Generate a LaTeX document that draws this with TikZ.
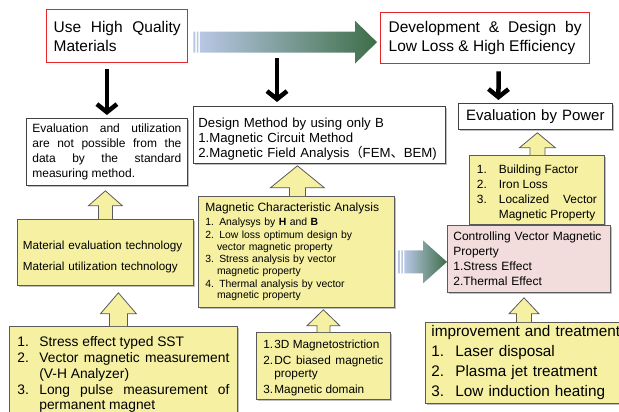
\documentclass[tikz,border=0pt]{standalone}
\usepackage{fontspec}
\setmainfont{Liberation Sans}
\newfontfamily\cjk{Noto Sans CJK KR}
\usetikzlibrary{
  arrows.meta,
  calc,
  shadows
}
\definecolor{framered}{RGB}{228,38,43}
\definecolor{noteyellow}{RGB}{245,240,162}
\definecolor{notepink}{RGB}{242,220,220}
\definecolor{gradstart}{RGB}{184,199,228}
\definecolor{gradend}{RGB}{62,110,72}
\definecolor{edgegray}{RGB}{90,90,90}
\hyphenpenalty=10000
\exhyphenpenalty=10000
\tolerance=10000
\hbadness=10000
\hfuzz=5pt

\newcommand\fsz[2]{\fontsize{#1}{#2}\selectfont}
% numbered line with hanging indent
\newcommand\numline[3]{\par\noindent\hangindent=#1\hangafter=1\makebox[#1][l]{#2}#3\par}
% yellow block arrow pointing up: tail, tip, shaft half, head half, head length
\newcommand\blockup[5]{%
  \draw[blockarrow] let \p1=#1, \p2=#2 in
    (\x1-#3,\y1) -- (\x1-#3,\y2-#5) -- (\x1-#4,\y2-#5) -- (\x1,\y2)
    -- (\x1+#4,\y2-#5) -- (\x1+#3,\y2-#5) -- (\x1+#3,\y1);
}
% shaded block arrow pointing right: start, tip, shaft half, head half, head length
\newcommand\gradarrow[5]{%
  \fill[gradstart] let \p1=#1 in
    (\x1,\y1-#3) rectangle (\x1+2pt,\y1+#3)
    (\x1+3.5pt,\y1-#3) rectangle (\x1+5pt,\y1+#3);
  \shade[left color=gradstart, right color=gradend] let \p1=#1, \p2=#2 in
    (\x1+6.5pt,\y1-#3) -- (\x2-#5,\y1-#3) -- (\x2-#5,\y1-#4) -- (\x2,\y1)
    -- (\x2-#5,\y1+#4) -- (\x2-#5,\y1+#3) -- (\x1+6.5pt,\y1+#3) -- cycle;
}

\tikzset{
  redbox/.style={draw=framered, line width=1.3pt, fill=white, anchor=north west},
  whitebox/.style={draw=black!75, line width=0.8pt, fill=white, anchor=north west,
    drop shadow={shadow xshift=1.5pt, shadow yshift=-1.5pt, opacity=0.5, fill=black!50}},
  notebox/.style={draw=edgegray, line width=0.8pt, fill=noteyellow, anchor=north west,
    drop shadow={shadow xshift=1.5pt, shadow yshift=-1.5pt, opacity=0.5, fill=black!50}},
  ctrlbox/.style={notebox, fill=notepink},
  blockarrow/.style={draw=edgegray, line width=0.8pt, fill=noteyellow},
  downarrow/.style={line width=4.5pt, -{Straight Barb[length=8pt,width=20pt]}}
}

\begin{document}
\begin{tikzpicture}[x=1pt, y=-1pt]
  \clip (0,0) rectangle (619,412);

  % top targets
  \node [redbox, inner xsep=7pt, text width=127pt, minimum height=53pt, align=justify,
    font=\fsz{15.5}{19}] (usehq) at (46,9) {Use High Quality\linebreak Materials};
  \node [redbox, inner xsep=8pt, text width=193pt, minimum height=51pt, align=justify,
    font=\fsz{15.5}{19}] (devbox) at (380,12) {Development \& Design by\linebreak Low Loss \& High Efficiency};

  % second row
  \node [whitebox, inner xsep=6pt, text width=149pt, minimum height=67pt, align=justify,
    font=\fsz{12}{15}] (evalbox) at (26,118)
    {Evaluation and utilization\linebreak are not possible from the\linebreak
     data by the standard\linebreak measuring method.};
  \node [whitebox, inner xsep=5pt, text width=242pt, minimum height=57pt, align=left,
    font=\fsz{13.2}{15}] (design) at (193,106)
    {\rule{0pt}{17pt}Design Method by using only B\\1.Magnetic Circuit Method\\\mbox{2.Magnetic Field Analysis{\cjk （}FEM{\cjk 、}BEM)}};
  \node [whitebox, inner xsep=4pt, text width=146pt, minimum height=26pt, align=center,
    font=\fsz{15}{18}] (evalpow) at (458,103) {Evaluation by Power};

  % technology boxes
  \node [notebox, inner xsep=5.5pt, text width=165pt, minimum height=66pt, align=left,
    font=\fsz{11.7}{21}] (matev) at (17,219)
    {\rule{0pt}{18pt}\mbox{Material evaluation technology}\\\mbox{Material utilization technology}};
  \node [notebox, inner xsep=8pt, inner ysep=4.5pt, text width=212pt, align=justify,
    font=\fsz{13.8}{15.8}] (blist) at (9,326)
    {\numline{22pt}{1.}{Stress effect typed SST}
     \numline{22pt}{2.}{Vector magnetic measurement\linebreak (V-H Analyzer)}
     \numline{22pt}{3.}{Long pulse measurement of\linebreak permanent magnet}};
  \node [notebox, inner xsep=7pt, text width=182pt, minimum height=111pt, align=left,
    font=\fsz{10.4}{11.6}] (magchar) at (198,196)
    {{\fsz{12}{14}Magnetic Characteristic Analysis}\\[2.5pt]
     1. Analysys by \textbf{H} and \textbf{B}\\[1.2pt]
     2. Low loss optimum design by\\ \hspace*{11.6pt}vector magnetic property\\[1.2pt]
     3. Stress analysis by vector\\ \hspace*{11.6pt}magnetic property\\[1.2pt]
     4. Thermal analysis by vector\\ \hspace*{11.6pt}magnetic property};
  \node [notebox, inner xsep=7pt, text width=120pt, minimum height=66pt, align=justify,
    font=\fsz{11.8}{13}] (threed) at (256,332)
    {\numline{11pt}{1.}{3D Magnetostriction}\vskip3pt
     \numline{11pt}{2.}{DC biased magnetic\linebreak property}\vskip3pt
     \numline{11pt}{3.}{Magnetic domain}};
  \node [notebox, inner xsep=7.5pt, text width=120pt, minimum height=63pt, align=justify,
    font=\fsz{11.9}{15}] (build) at (469,155)
    {\numline{22pt}{1.}{Building Factor}
     \numline{22pt}{2.}{Iron Loss}
     \numline{22pt}{3.}{Localized Vector\linebreak Magnetic Property}};
  \node [ctrlbox, inner xsep=6pt, text width=151pt, minimum height=67pt, align=left,
    font=\fsz{12}{15}] (ctrl) at (447,225)
    {Controlling Vector Magnetic\\Property\\1.Stress Effect\\2.Thermal Effect};
  \node [notebox, inner xsep=6pt, text width=200pt, minimum height=81pt, align=left,
    font=\fsz{15.3}{20}] (improve) at (425,322)
    {improvement and treatment\\ \makebox[24pt][l]{1.}Laser disposal\\
     \makebox[24pt][l]{2.}Plasma jet treatment\\ \makebox[24pt][l]{3.}Low induction heating};

  % block arrows
  \blockup{(matev.north)}{([yshift=-5pt]evalbox.south)}{7pt}{17pt}{15pt}
  \blockup{([xshift=-5pt]blist.north)}{([yshift=-7pt]matev.south)}{9pt}{18pt}{21pt}
  \blockup{([xshift=1pt]magchar.north)}{([yshift=-2pt]design.south)}{8pt}{27pt}{22pt}
  \blockup{(threed.north)}{([yshift=-2pt]magchar.south)}{6.5pt}{16.5pt}{16pt}
  \blockup{([xshift=0.5pt]build.north)}{([yshift=-3pt]evalpow.south)}{7.5pt}{18pt}{15pt}
  \blockup{([xshift=99pt]improve.north west)}{([yshift=-5pt]ctrl.south)}{7.5pt}{15pt}{16pt}

  % shaded arrows
  \gradarrow{([xshift=5pt,yshift=-6pt]usehq.east)}{([xshift=-3pt]devbox.west)}{10.5pt}{21.5pt}{22pt}
  \gradarrow{([xshift=3pt,yshift=-10pt]magchar.east)}{(ctrl.west)}{11.5pt}{21.5pt}{24pt}

  % black arrows
  \coordinate (fork) at (277,58);
  \draw [downarrow] ($(evalbox.north |- usehq.south)+(0,6)$) -- ($(evalbox.north)+(0,-3)$);
  \draw [downarrow] (fork) -- ($(fork |- design.north)+(0,-4)$);
  \draw [downarrow] ([xshift=13.5pt,yshift=-7pt]devbox.south) -- ([xshift=-37pt,yshift=3pt]evalpow.north);
\end{tikzpicture}
\end{document}
